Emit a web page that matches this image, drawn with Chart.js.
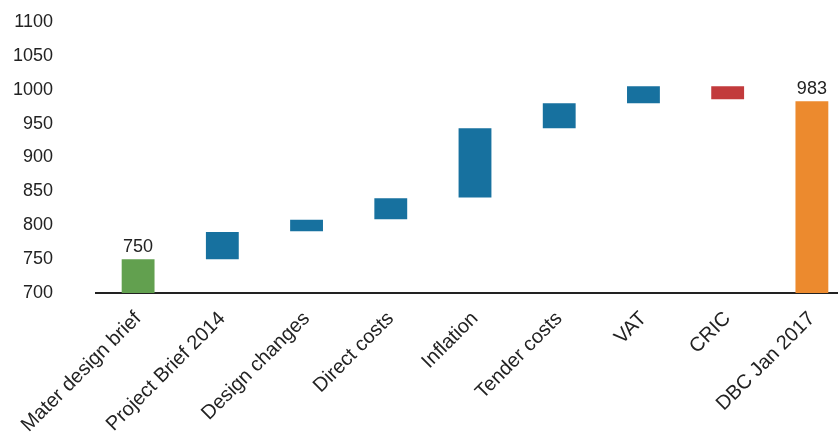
<!DOCTYPE html>
<html>
<head>
<meta charset="utf-8">
<script src="https://cdn.jsdelivr.net/npm/chart.js@4.4.0/dist/chart.umd.min.js"></script>
<style>
    html, body { margin: 0; padding: 0; background: white; overflow: hidden; }
    #wrap { width: 856px; height: 441px; }
</style>
</head>
<body>
<div id="wrap"><canvas id="chart"></canvas></div>
<script>
// waterfall steps
const categories = ['Mater design brief', 'Project Brief 2014', 'Design changes', 'Direct costs',
    'Inflation', 'Tender costs', 'VAT', 'CRIC', 'DBC Jan 2017'];
const barStart = [700, 750, 791, 809, 841, 943, 980, 1005, 700];
const barEnd = [750, 790, 808, 840, 943, 980, 1005, 986, 983];
const valueLabels = ['750', '', '', '', '', '', '', '', '983'];
const yTicks = [700, 750, 800, 850, 900, 950, 1000, 1050, 1100];

const barColors = ['#62a04f', '#17719f', '#17719f', '#17719f', '#17719f',
    '#17719f', '#17719f', '#c23a3c', '#ec8a2e'];

// draws the total labels above the first and last bars
const valueLabelPlugin = {
    id: 'valueLabels',
    afterDatasetsDraw(chart) {
        const ctx = chart.ctx;
        const meta = chart.getDatasetMeta(0);
        ctx.save();
        ctx.font = '18px "Liberation Sans", Arial, sans-serif';
        ctx.fillStyle = '#222';
        ctx.textAlign = 'center';
        ctx.textBaseline = 'bottom';
        meta.data.forEach((bar, i) => {
            if (!valueLabels[i]) return;
            ctx.fillText(valueLabels[i], bar.x, Math.min(bar.y, bar.base) - 3);
        });
        ctx.restore();
    }
};

const ctx = document.getElementById('chart').getContext('2d');
new Chart(ctx, {
    type: 'bar',
    data: {
        labels: categories,
        datasets: [{
            data: barStart.map((s, i) => [s, barEnd[i]]),
            backgroundColor: barColors,
            borderWidth: 0,
            categoryPercentage: 1,
            barPercentage: 0.39
        }]
    },
    options: {
        responsive: true,
        maintainAspectRatio: false,
        animation: false,
        layout: { padding: { top: 22, right: 2, left: 0, bottom: 0 } },
        plugins: {
            legend: { display: false },
            tooltip: { enabled: false }
        },
        scales: {
            x: {
                grid: { display: false, drawTicks: false },
                border: { display: true, color: '#222', width: 2 },
                ticks: {
                    color: '#222',
                    font: { family: '"Liberation Sans", Arial, sans-serif', size: 20 },
                    minRotation: 45,
                    maxRotation: 45,
                    autoSkip: false,
                    padding: 14
                },
                afterFit(scale) { scale.height = 148; }
            },
            y: {
                min: 700,
                max: 1100,
                grid: { display: false, drawTicks: false },
                border: { display: false },
                afterBuildTicks(scale) { scale.ticks = yTicks.map(v => ({ value: v })); },
                ticks: {
                    color: '#222',
                    font: { family: '"Liberation Sans", Arial, sans-serif', size: 18 },
                    padding: 43,
                    callback: v => String(v)
                },
                afterFit(scale) {
                    scale.width = 96;
                    // the big label gap should not push the plot down
                    scale.paddingTop = 0;
                    scale.paddingBottom = 0;
                }
            }
        }
    },
    plugins: [valueLabelPlugin]
});
</script>
</body>
</html>
